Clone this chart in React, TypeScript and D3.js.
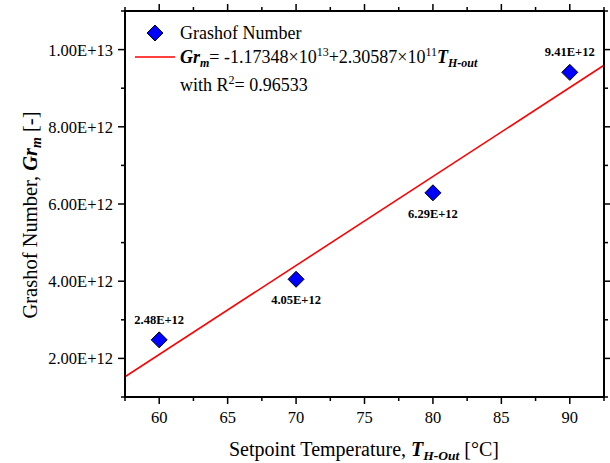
import React from "react";
import * as d3 from "d3";

const temps = [60, 70, 80, 90];
const grashof = [2.48e12, 4.05e12, 6.29e12, 9.41e12];
const pointLabels = ["2.48E+12", "4.05E+12", "6.29E+12", "9.41E+12"];
const labelAbove = [true, false, false, true];
const fitIntercept = -1.17348e13;
const fitSlope = 2.30587e11;
const xTicks = [60, 65, 70, 75, 80, 85, 90];
const xMinor = [57.5, 62.5, 67.5, 72.5, 77.5, 82.5, 87.5, 92.5];
const yTicks = [2e12, 4e12, 6e12, 8e12, 1e13];
const yTickLabels = ["2.00E+12", "4.00E+12", "6.00E+12", "8.00E+12", "1.00E+13"];
const yMinor = [1e12, 3e12, 5e12, 7e12, 9e12, 1.1e13];

const W = 610, H = 463;
const L = 125, R = 604, T = 11, B = 397;
const FONT = "Liberation Serif, Times New Roman, Times, Tinos, DejaVu Serif, serif";

export default function App() {
  const x = d3.scaleLinear().domain([57.5, 92.5]).range([L, R]);
  const y = d3.scaleLinear().domain([1e12, 1.1e13]).range([B, T]);
  const line = d3.line<number>().x((d) => x(d)).y((d) => y(fitIntercept + fitSlope * d));
  const diamond = (cx: number, cy: number, r: number) =>
    `M${cx},${cy - r}L${cx + r},${cy}L${cx},${cy + r}L${cx - r},${cy}Z`;

  return (
    <svg width={W} height={H} style={{ display: "block", position: "absolute", left: 0, top: 0, fontFamily: FONT }}>
      <rect width={W} height={H} fill="#fff" />
      <defs>
        <clipPath id="plot"><rect x={L} y={T} width={R - L} height={B - T} /></clipPath>
      </defs>
      <path d={line([57.5, 92.5]) || ""} stroke="#ff0000" strokeWidth={1.6} fill="none" clipPath="url(#plot)" />
      {temps.map((t, i) => (
        <g key={t}>
          <path d={diamond(x(t), y(grashof[i]), 8)} fill="#0000ff" stroke="#000" strokeWidth={1} />
          <text x={x(t)} y={labelAbove[i] ? y(grashof[i]) - 16 : y(grashof[i]) + 25}
            textAnchor="middle" fontWeight="bold" fontSize={12.5}>{pointLabels[i]}</text>
        </g>
      ))}
      <rect x={L} y={T} width={R - L} height={B - T} fill="none" stroke="#000" strokeWidth={2} />
      {xTicks.map((v) => (
        <g key={"x" + v}>
          <line x1={x(v)} x2={x(v)} y1={B} y2={B + 7} stroke="#000" strokeWidth={1.5} />
          <line x1={x(v)} x2={x(v)} y1={T} y2={T - 7} stroke="#000" strokeWidth={1.5} />
          <text x={x(v)} y={423} textAnchor="middle" fontSize={16.5}>{v}</text>
        </g>
      ))}
      {xMinor.map((v) => (
        <g key={"xm" + v}>
          <line x1={x(v)} x2={x(v)} y1={B} y2={B + 4} stroke="#000" strokeWidth={1.5} />
          <line x1={x(v)} x2={x(v)} y1={T} y2={T - 4} stroke="#000" strokeWidth={1.5} />
        </g>
      ))}
      {yTicks.map((v, i) => (
        <g key={"y" + v}>
          <line x1={L} x2={L - 7} y1={y(v)} y2={y(v)} stroke="#000" strokeWidth={1.5} />
          <line x1={R} x2={R + 7} y1={y(v)} y2={y(v)} stroke="#000" strokeWidth={1.5} />
          <text x={L - 12} y={y(v) + 6} textAnchor="end" fontSize={16.5}>{yTickLabels[i]}</text>
        </g>
      ))}
      {yMinor.map((v) => (
        <g key={"ym" + v}>
          <line x1={L} x2={L - 4} y1={y(v)} y2={y(v)} stroke="#000" strokeWidth={1.5} />
          <line x1={R} x2={R + 4} y1={y(v)} y2={y(v)} stroke="#000" strokeWidth={1.5} />
        </g>
      ))}
      <path d={diamond(155, 33, 8)} fill="#0000ff" stroke="#000" strokeWidth={1} />
      <text x={180} y={39} fontSize={18}>Grashof Number</text>
      <line x1={135} x2={175} y1={57} y2={57} stroke="#ff0000" strokeWidth={1.6} />
      <text x={180} y={63} fontSize={18}>
        <tspan fontWeight="bold" fontStyle="italic">Gr</tspan>
        <tspan fontWeight="bold" fontStyle="italic" fontSize={12} dy={4}>m</tspan>
        <tspan dy={-4}>= -1.17348×10</tspan>
        <tspan fontSize={12} dy={-7}>13</tspan>
        <tspan dy={7}>+2.30587×10</tspan>
        <tspan fontSize={12} dy={-7}>11</tspan>
        <tspan fontWeight="bold" fontStyle="italic" dy={7}>T</tspan>
        <tspan fontWeight="bold" fontStyle="italic" fontSize={12} dy={4}>H-out</tspan>
      </text>
      <text x={180} y={91} fontSize={18}>
        <tspan>with R</tspan>
        <tspan fontSize={12} dy={-7}>2</tspan>
        <tspan dy={7}>= 0.96533</tspan>
      </text>
      <text transform={`translate(37, 215) rotate(-90)`} textAnchor="middle" fontSize={20.5}>
        <tspan>Grashof Number, </tspan>
        <tspan fontWeight="bold" fontStyle="italic">Gr</tspan>
        <tspan fontWeight="bold" fontStyle="italic" fontSize={14} dy={4}>m</tspan>
        <tspan dy={-4}>  [-]</tspan>
      </text>
      <text x={364} y={456} textAnchor="middle" fontSize={20}>
        <tspan>Setpoint Temperature, </tspan>
        <tspan fontWeight="bold" fontStyle="italic">T</tspan>
        <tspan fontWeight="bold" fontStyle="italic" fontSize={13.5} dy={4}>H-Out</tspan>
        <tspan dy={-4}> [°C]</tspan>
      </text>
    </svg>
  );
}
